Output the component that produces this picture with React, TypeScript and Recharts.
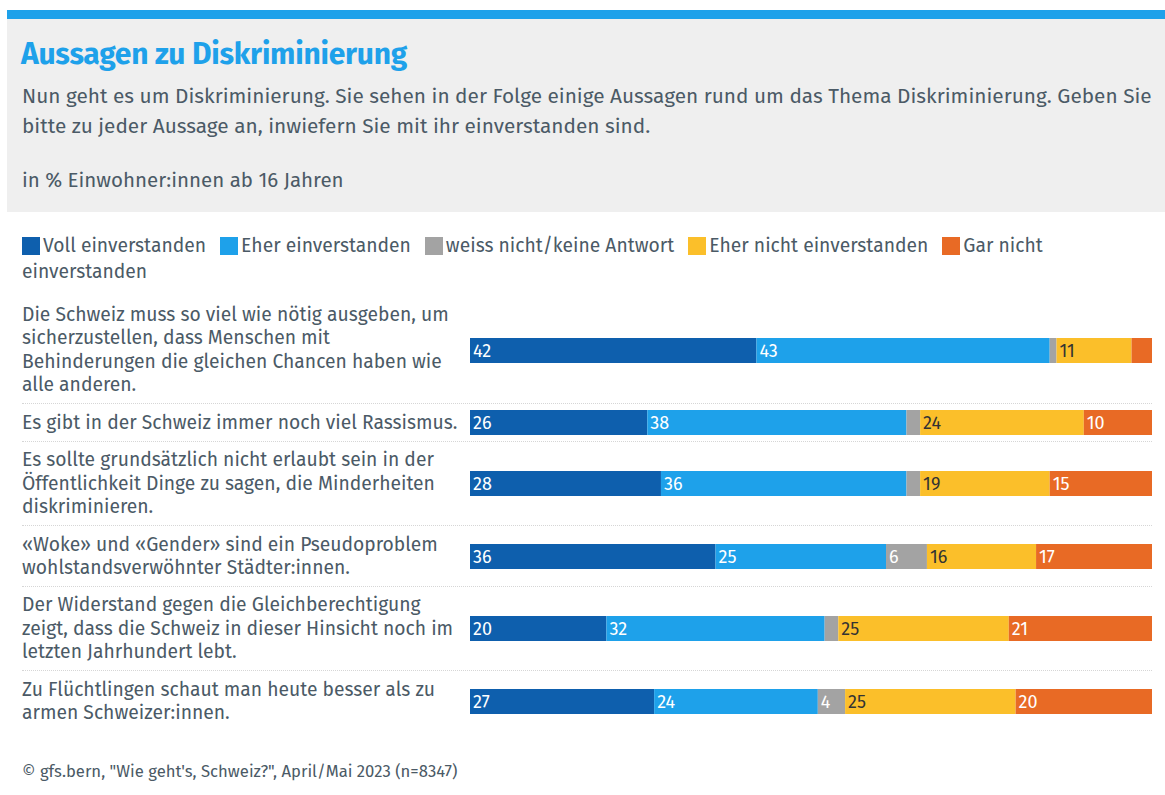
import { BarChart, Bar, XAxis, YAxis, LabelList } from 'recharts';

const statements = [
  'Die Schweiz muss so viel wie nötig ausgeben, um\nsicherzustellen, dass Menschen mit\nBehinderungen die gleichen Chancen haben wie\nalle anderen.',
  'Es gibt in der Schweiz immer noch viel Rassismus.',
  'Es sollte grundsätzlich nicht erlaubt sein in der\nÖffentlichkeit Dinge zu sagen, die Minderheiten\ndiskriminieren.',
  '«Woke» und «Gender» sind ein Pseudoproblem\nwohlstandsverwöhnter Städter:innen.',
  'Der Widerstand gegen die Gleichberechtigung\nzeigt, dass die Schweiz in dieser Hinsicht noch im\nletzten Jahrhundert lebt.',
  'Zu Flüchtlingen schaut man heute besser als zu\narmen Schweizer:innen.',
];

const vollEinverstanden = [42, 26, 28, 36, 20, 27];
const eherEinverstanden = [43, 38, 36, 25, 32, 24];
const weissNicht = [1, 2, 2, 6, 2, 4];
const eherNicht = [11, 24, 19, 16, 25, 25];
const garNicht = [3, 10, 15, 17, 21, 20];

// last legend entry wraps after "Gar nicht" in the original
const seriesNames = [
  'Voll einverstanden',
  'Eher einverstanden',
  'weiss nicht/keine Antwort',
  'Eher nicht einverstanden',
  'Gar nicht',
];
const legendWrap = 'einverstanden';

const COLORS = ['#0e5fad', '#1ea1ea', '#a3a3a3', '#fbbf2a', '#e86a25'];
const LABEL_COLORS = ['#fff', '#fff', '#fff', '#333', '#fff'];
const KEYS = ['voll', 'eher', 'weiss', 'eherNicht', 'garNicht'];

const FONT = "'Fira Sans', 'Open Sans', sans-serif";
const TEXT = '#4b5a66';

const rows = statements.map((label, i) => ({
  label,
  voll: vollEinverstanden[i],
  eher: eherEinverstanden[i],
  weiss: weissNicht[i],
  eherNicht: eherNicht[i],
  garNicht: garNicht[i],
}));

function RowChart({ row, height }: { row: (typeof rows)[number]; height: number }) {
  return (
    <BarChart
      width={682}
      height={height}
      data={[row]}
      layout="vertical"
      margin={{ top: 0, right: 0, bottom: 0, left: 0 }}
    >
      <XAxis type="number" domain={[0, 100]} hide />
      <YAxis type="category" dataKey="label" hide />
      {KEYS.map((k, i) => (
        <Bar key={k} dataKey={k} stackId="a" fill={COLORS[i]} barSize={25} isAnimationActive={false}>
          <LabelList
            dataKey={k}
            position="insideLeft"
            offset={3}
            fill={LABEL_COLORS[i]}
            fontSize={18}
            fontFamily={FONT}
            formatter={(v: number) => (v >= 4 ? v : '')}
          />
        </Bar>
      ))}
    </BarChart>
  );
}

export default function App() {
  return (
    <div style={{ position: 'relative', width: 1165, height: 795, fontFamily: FONT, color: TEXT }}>
      <style>{'body{margin:0}'}</style>
      <div style={{ position: 'absolute', left: 7, top: 10, width: 1158, height: 9, background: '#1ea1ea' }} />
      <div style={{ position: 'absolute', left: 7, top: 19, width: 1158, height: 193, background: '#efefef' }} />
      <div
        style={{
          position: 'absolute',
          left: 21,
          top: 36,
          fontSize: 30,
          lineHeight: '36px',
          fontWeight: 700,
          color: '#1ea1ea',
          letterSpacing: -0.25,
          whiteSpace: 'nowrap',
        }}
      >
        Aussagen zu Diskriminierung
      </div>
      <div
        style={{
          position: 'absolute',
          left: 22,
          top: 82,
          fontSize: 20.8,
          lineHeight: '30px',
          whiteSpace: 'nowrap',
        }}
      >
        Nun geht es um Diskriminierung. Sie sehen in der Folge einige Aussagen rund um das Thema Diskriminierung. Geben Sie
        <br />
        bitte zu jeder Aussage an, inwiefern Sie mit ihr einverstanden sind.
      </div>
      <div
        style={{ position: 'absolute', left: 22, top: 167, fontSize: 20.5, lineHeight: '26px', whiteSpace: 'nowrap' }}
      >
        in % Einwohner:innen ab 16 Jahren
      </div>

      {/* legend */}
      <div
        style={{
          position: 'absolute',
          left: 22,
          top: 233,
          width: 1130,
          fontSize: 19.3,
          lineHeight: '26px',
          display: 'flex',
          flexWrap: 'wrap',
        }}
      >
        {seriesNames.map((name, i) => (
          <div key={name} style={{ display: 'flex', alignItems: 'center', marginRight: i < 4 ? 14 : 0 }}>
            <div style={{ width: 18, height: 18, background: COLORS[i], marginRight: 3 }} />
            <span style={{ whiteSpace: 'nowrap' }}>{name}</span>
          </div>
        ))}
        <div style={{ flexBasis: '100%', height: 0 }} />
        <span>{legendWrap}</span>
      </div>

      <div style={{ position: 'absolute', left: 22, top: 296, width: 1130 }}>
        {rows.map((row, i) => {
          const lines = row.label.split('\n').length;
          const h = lines * 23 + 15;
          return (
            <div
              key={i}
              style={{
                display: 'flex',
                alignItems: 'center',
                height: h,
                borderTop: i > 0 ? '1px dotted #d6d6d6' : 'none',
                boxSizing: 'border-box',
              }}
            >
              <div
                style={{
                  width: 448,
                  fontSize: 19.3,
                  lineHeight: '23.5px',
                  whiteSpace: 'pre-line',
                }}
              >
                {row.label}
              </div>
              <RowChart row={row} height={h - 1} />
            </div>
          );
        })}
      </div>

      <div style={{ position: 'absolute', left: 22, top: 761, fontSize: 16.7, lineHeight: '20px', whiteSpace: 'nowrap' }}>
        © gfs.bern, "Wie geht's, Schweiz?", April/Mai 2023 (n=8347)
      </div>
    </div>
  );
}
